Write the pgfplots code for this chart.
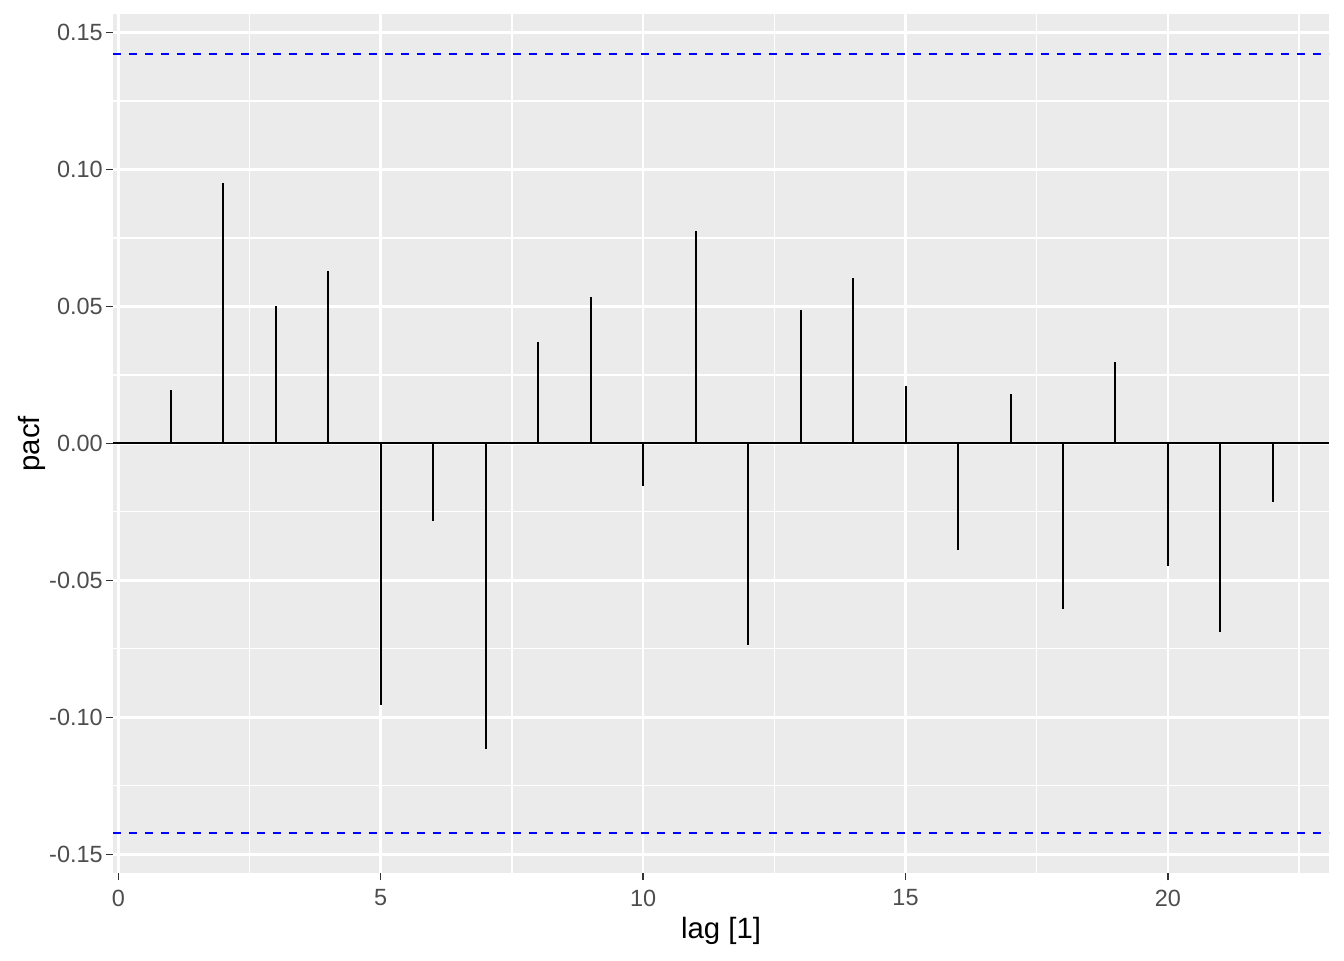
\documentclass[border=0pt]{standalone}
\usepackage{fontspec}
\setmainfont{Liberation Sans}
\usepackage{pgfplots}
\pgfplotsset{compat=1.18}
\definecolor{panelbg}{HTML}{EBEBEB}
\definecolor{ticklab}{HTML}{4D4D4D}
\definecolor{tickcol}{HTML}{333333}
\begin{document}
\begin{tikzpicture}
\useasboundingbox (-42.4pt,-32.6pt) rectangle (461.6pt,327.4pt);
\begin{axis}[
  at={(0,0)}, anchor=south west,
  scale only axis, width=456pt, height=322pt,
  xmin=-0.1, xmax=23.07, ymin=-0.1569, ymax=0.1566,
  axis background/.style={fill=panelbg},
  axis line style={draw=none},
  xtick={0,5,10,15,20}, xticklabels={0,5,10,15,20},
  minor xtick={2.5,7.5,12.5,17.5,22.5},
  ytick={-0.15,-0.10,-0.05,0,0.05,0.10,0.15},
  yticklabels={-0.15,-0.10,-0.05,0.00,0.05,0.10,0.15},
  minor ytick={-0.125,-0.075,-0.025,0.025,0.075,0.125},
  xtick pos=bottom, ytick pos=left,
  grid=both,
  major grid style={white, line width=1pt},
  minor grid style={white, line width=0.5pt},
  tick align=outside, major tick length=2.75pt, minor tick length=0pt,
  tick style={tickcol, line width=0.5pt},
  ticklabel style={font=\fontsize{8.8}{10}\selectfont, text=ticklab},
  yticklabel style={xshift=2.4pt},
  xlabel={lag [1]}, ylabel={pacf},
  every axis x label/.style={at={(axis description cs:0.5,-0.0675)}, anchor=center, font=\fontsize{11}{13}\selectfont},
  every axis y label/.style={at={(axis description cs:-0.0667,0.5)}, rotate=90, anchor=center, font=\fontsize{11}{13}\selectfont},
]
% partial autocorrelations
\addplot[ycomb, black, line width=0.75pt, no marks] coordinates {
  (1,0.0193) (2,0.0949) (3,0.0500) (4,0.0628) (5,-0.0956) (6,-0.0285)
  (7,-0.1117) (8,0.0369) (9,0.0533) (10,-0.0157) (11,0.0774) (12,-0.0737)
  (13,0.0485) (14,0.0602) (15,0.0208) (16,-0.0391) (17,0.0179) (18,-0.0606)
  (19,0.0296) (20,-0.0449) (21,-0.0690) (22,-0.0215)
};
\addplot[black, line width=0.75pt] coordinates {(-0.1,0) (23.07,0)};
% significance bounds
\addplot[blue, line width=0.75pt, dash pattern=on 3pt off 3pt] coordinates {(-0.1,0.1423) (23.07,0.1423)};
\addplot[blue, line width=0.75pt, dash pattern=on 3pt off 3pt] coordinates {(-0.1,-0.1423) (23.07,-0.1423)};
\end{axis}
\end{tikzpicture}
\end{document}
